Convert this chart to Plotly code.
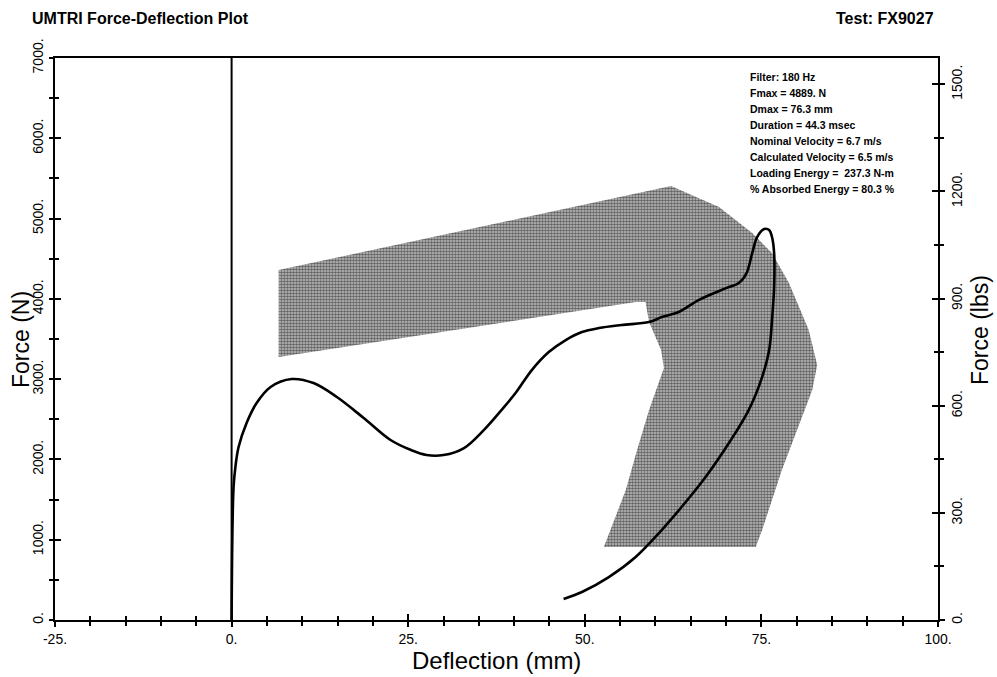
import plotly.graph_objects as go

# ---------------- data ----------------
curve_x = [0.0, 0.28, 0.57, 0.99, 2.12, 3.54, 5.52, 8.5, 11.6, 14.9, 18.7, 22.5, 25.4, 27.6, 30.0,
           32.9, 35.7, 38.2, 40.2, 42.5, 44.9, 47.3, 49.6, 52.0, 55.2, 59.1, 60.9, 63.3, 66.1, 70.0,
           71.8, 72.9, 73.7, 74.4, 75.4, 76.1, 76.5, 76.8, 76.8, 76.5, 76.1, 75.1, 73.2, 70.4, 67.1,
           63.7, 60.5, 57.2, 53.4, 49.6, 47.0]
curve_y = [0, 1656, 1930, 2154, 2453, 2702, 2902, 3001, 2951, 2777, 2516, 2242, 2117, 2055, 2055,
           2142, 2366, 2615, 2827, 3113, 3337, 3487, 3587, 3636, 3674, 3711, 3773, 3836, 3985, 4134,
           4197, 4321, 4570, 4770, 4869, 4857, 4770, 4570, 4147, 3736, 3362, 3026, 2615, 2204, 1781,
           1407, 1083, 785, 535, 349, 262]

spike_x = [0.0, 0.0]
spike_y = [0, 7000]

corr_x = [6.66, 62.2, 69.0, 73.7, 76.5, 78.9, 81.7, 82.9, 82.2, 80.0, 77.9, 75.1, 74.2,
          52.7, 55.8, 57.4, 59.1, 61.2, 60.8, 59.1, 58.6, 57.2, 6.66]
corr_y = [4359, 5405, 5143, 4819, 4570, 4197, 3611, 3176, 2864, 2366, 1868, 1121, 909,
          909, 1619, 2117, 2615, 3138, 3362, 3711, 3960, 3960, 3275]

x_ticks = [-25, 0, 25, 50, 75, 100]
x_labels = ["-25.", "0.", "25.", "50.", "75.", "100."]
yN_ticks = [0, 1000, 2000, 3000, 4000, 5000, 6000, 7000]
yN_labels = ["0.", "1000.", "2000.", "3000.", "4000.", "5000.", "6000.", "7000."]
ylb_ticks = [0, 300, 600, 900, 1200, 1500]
ylb_labels = ["0.", "300.", "600.", "900.", "1200.", "1500."]
N_PER_LB = 4.44822

info_lines = ["Filter: 180 Hz", "Fmax = 4889. N", "Dmax = 76.3 mm", "Duration = 44.3 msec",
              "Nominal Velocity = 6.7 m/s", "Calculated Velocity = 6.5 m/s",
              "Loading Energy =  237.3 N-m", "% Absorbed Energy = 80.3 %"]

title_text = "UMTRI Force-Deflection Plot"
test_text = "Test: FX9027"

# ---------------- figure ----------------
FONT = "Liberation Sans, Arial, Helvetica, sans-serif"
W, H = 997, 677
L, R, T, B = 55, 59, 58, 57
pw, ph = W - L - R, H - T - B

fig = go.Figure()
fig.add_trace(go.Scatter(x=corr_x, y=corr_y, fill="toself", mode="lines",
                         line=dict(width=0, color="rgba(0,0,0,0)"),
                         fillcolor="white",
                         fillpattern=dict(shape=".", fgcolor="black", bgcolor="#c4c4c4",
                                          size=3, solidity=0.6),
                         showlegend=False, hoverinfo="skip"))
fig.add_trace(go.Scatter(x=spike_x, y=spike_y, mode="lines",
                         line=dict(color="black", width=2), showlegend=False))
fig.add_trace(go.Scatter(x=curve_x, y=curve_y, mode="lines",
                         line=dict(color="black", width=2.6, shape="spline", smoothing=1.0),
                         showlegend=False))
# invisible traces to anchor the twin axes
fig.add_trace(go.Scatter(x=[-25, 100], y=[0, 7000], xaxis="x3", yaxis="y", mode="none",
                         showlegend=False, hoverinfo="skip"))
fig.add_trace(go.Scatter(x=[-25, 100], y=[0, 7000], xaxis="x", yaxis="y3", mode="none",
                         showlegend=False, hoverinfo="skip"))
fig.add_trace(go.Scatter(x=[-25, 100], y=[0, 1500], xaxis="x", yaxis="y2", mode="none",
                         showlegend=False, hoverinfo="skip"))
fig.add_trace(go.Scatter(x=[-25, 100], y=[0, 1500], xaxis="x", yaxis="y4", mode="none",
                         showlegend=False, hoverinfo="skip"))

tickfont = dict(family=FONT, size=14, color="black")
common = dict(showgrid=False, zeroline=False, tickcolor="black", tickwidth=2)

ylb_max = 7000 / N_PER_LB

fig.update_layout(
    width=W, height=H, margin=dict(l=L, r=R, t=T, b=B),
    paper_bgcolor="white", plot_bgcolor="white", showlegend=False,
    xaxis=dict(range=[-25, 100], tickvals=x_ticks, ticktext=x_labels, ticks="outside", ticklen=5,
               showline=True, linecolor="black", linewidth=2, mirror=True,
               minor=dict(dtick=5, tick0=0, ticks="outside", ticklen=4, tickcolor="black", tickwidth=1.5),
               tickfont=tickfont, **common),
    xaxis3=dict(range=[-25, 100], overlaying="x", side="bottom", anchor="y", tickvals=x_ticks,
                ticks="inside", ticklen=6, showticklabels=False, showline=False,
                minor=dict(dtick=5, tick0=0, ticks="inside", ticklen=4, tickcolor="black", tickwidth=1.5),
                **common),
    yaxis=dict(range=[0, 7000], tickvals=yN_ticks, ticktext=yN_labels, ticks="outside", ticklen=4,
               tickangle=-90, showline=True, linecolor="black", linewidth=2,
               minor=dict(dtick=500, tick0=0, ticks="outside", ticklen=4, tickcolor="black", tickwidth=1.5),
               tickfont=tickfont, **common),
    yaxis3=dict(range=[0, 7000], overlaying="y", side="left", anchor="x", tickvals=yN_ticks,
                ticks="inside", ticklen=6, showticklabels=False, showline=False,
                minor=dict(dtick=500, tick0=0, ticks="inside", ticklen=4, tickcolor="black", tickwidth=1.5),
                **common),
    yaxis2=dict(range=[0, ylb_max], overlaying="y", side="right", anchor="x", tickvals=ylb_ticks,
                ticktext=ylb_labels, ticks="outside", ticklen=5, tickangle=-90, showline=True,
                linecolor="black", linewidth=2,
                minor=dict(dtick=150, tick0=0, ticks="outside", ticklen=4, tickcolor="black", tickwidth=1.5),
                tickfont=tickfont, **common),
    yaxis4=dict(range=[0, ylb_max], overlaying="y", side="right", anchor="x", tickvals=ylb_ticks,
                ticks="inside", ticklen=6, showticklabels=False, showline=False,
                minor=dict(dtick=150, tick0=0, ticks="inside", ticklen=4, tickcolor="black", tickwidth=1.5),
                **common),
)

def px_x(p):
    return (p - L) / pw

def px_y(p):
    return (H - B - p) / ph

ann = []
ann.append(dict(text="<b>" + title_text + "</b>", x=px_x(30), y=px_y(18), xref="paper", yref="paper",
                xanchor="left", yanchor="middle", showarrow=False,
                font=dict(family=FONT, size=16, color="black")))
ann.append(dict(text="<b>" + test_text + "</b>", x=px_x(936), y=px_y(18), xref="paper", yref="paper",
                xanchor="right", yanchor="middle", showarrow=False,
                font=dict(family=FONT, size=16, color="black")))
ann.append(dict(text="Deflection (mm)", x=0.5, y=px_y(660), xref="paper", yref="paper",
                xanchor="center", yanchor="middle", showarrow=False,
                font=dict(family=FONT, size=24, color="black")))
ann.append(dict(text="Force (N)", x=px_x(21), y=px_y(340), xref="paper", yref="paper",
                xanchor="center", yanchor="middle", showarrow=False, textangle=-90,
                font=dict(family=FONT, size=23, color="black")))
ann.append(dict(text="Force (lbs)", x=px_x(980), y=px_y(330), xref="paper", yref="paper",
                xanchor="center", yanchor="middle", showarrow=False, textangle=-90,
                font=dict(family=FONT, size=23, color="black")))
for i, line in enumerate(info_lines):
    ann.append(dict(text="<b>" + line + "</b>", x=px_x(748), y=px_y(77 + 16 * i),
                    xref="paper", yref="paper", xanchor="left", yanchor="middle", showarrow=False,
                    font=dict(family=FONT, size=10.5, color="black")))
fig.update_layout(annotations=ann)

fig.write_html("out.html")
